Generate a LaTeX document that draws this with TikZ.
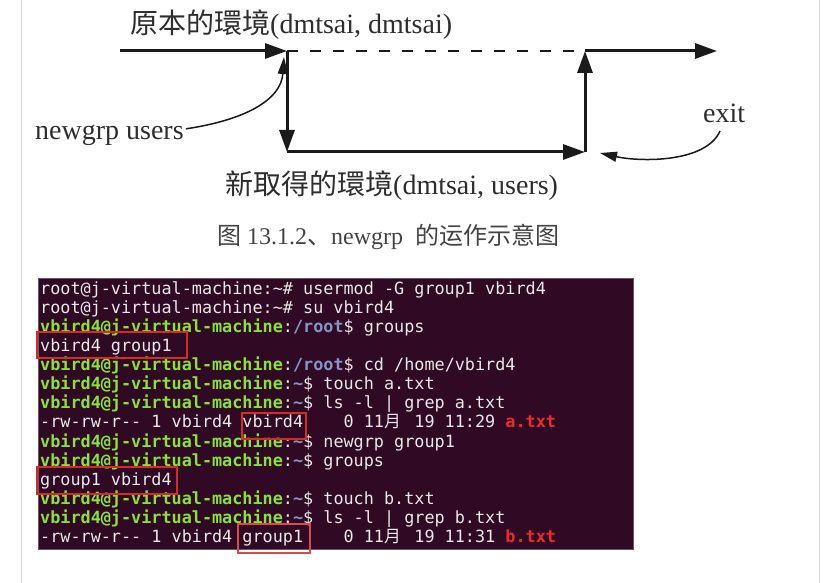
\documentclass[tikz,border=0pt]{standalone}
\usepackage{fontspec}
\setmainfont{Liberation Serif}
\newfontfamily\cjktc{Noto Sans CJK TC}
\newfontfamily\cjksc{Noto Sans CJK SC}
\newfontfamily\termfont[Ligatures=TeXOff]{DejaVu Sans Mono}
\usetikzlibrary{arrows.meta}
\definecolor{termbg}{HTML}{300A24}
\definecolor{termfg}{HTML}{E8E8E6}
\definecolor{tgreen}{HTML}{8AE234}
\definecolor{tblue}{HTML}{8595C8}
\definecolor{tred}{HTML}{EF2929}
\definecolor{boxred}{HTML}{D42A2A}
\definecolor{inkdark}{HTML}{1A1A1A}
\definecolor{labelgray}{HTML}{2E2E2E}
\definecolor{capgray}{HTML}{444444}
\newcommand\vbprompt[1]{\textbf{\color{tgreen}vbird4@j-virtual-machine}:\textbf{\color{tblue}#1}\$}
\newcommand\yuechar{\makebox[20.2pt][l]{\cjksc 月}}
\newcommand\redfile[1]{\textbf{\color{tred}#1}}
\tikzset{
  mainline/.style={line width=3pt, draw=inkdark, -{Triangle[length=22pt,width=15pt]}},
  plainline/.style={line width=3pt, draw=inkdark},
  dashline/.style={line width=2pt, draw=inkdark, dash pattern=on 11pt off 12pt},
  curvearrow/.style={line width=1.5pt, draw=inkdark, -{Triangle[length=17pt,width=10pt]}},
  biglabel/.style={anchor=base west, inner sep=0pt, text=labelgray, font=\fontsize{28}{30}\selectfont},
  caption/.style={anchor=base west, inner sep=0pt, text=capgray, font=\fontsize{24}{26}\selectfont},
  termline/.style={anchor=base west, inner sep=0pt, text=termfg, font=\termfont\fontsize{16.8}{19}\selectfont},
  redbox/.style={draw=boxred, line width=1.3pt},
  pageedge/.style={draw=black!16, line width=1.5pt}
}
\begin{document}
\begin{tikzpicture}[x=1pt,y=-1pt]
\useasboundingbox (0,0) rectangle (831,583);
\fill[white] (0,0) rectangle (831,583);
\draw[pageedge] (21.5,0) -- (21.5,583);
\draw[pageedge] (819.5,0) -- (819.5,583);

% ---- diagram ----
\coordinate (a0) at (120,51);
\coordinate (a1) at (287,51);
\coordinate (a2) at (585,51);
\coordinate (a3) at (717,51);
\coordinate (b1) at (287,152);
\coordinate (b2) at (585,152);
\coordinate (ex) at (600,153);
\coordinate (ng) at (284,57);

\draw[mainline] (a0) -- (a1);
\draw[dashline] (a1) -- (a2);
\draw[mainline] (a2) -- (a3);
\draw[mainline] (a1) -- (b1);
\draw[mainline] (b1) -- (b2);
\draw[mainline] (b2) -- (a2);

\node[biglabel] (top) at (130,34) {{\cjktc 原本的環境}(dmtsai, dmtsai)};
\node[biglabel] (bot) at (225,195) {{\cjktc 新取得的環境}(dmtsai, users)};
\node[biglabel] (newgrp) at (35,140) {newgrp users};
\node[biglabel] (exit) at (703,123) {exit};

\draw[curvearrow] (newgrp.east) ++(2,-7) coordinate (ngs) .. controls (245,120) and (281,100) .. (ng);
\draw[curvearrow] (720,131) coordinate (exs) .. controls (706,163) and (640,162) .. (ex);

\node[caption] (cap) at (217,244) {{\cjksc 图} 13.1.2{\cjksc 、}newgrp~~{\cjksc 的运作示意图}};

% ---- terminal ----
\filldraw[fill=termbg, draw=termbg!70!white, line width=1pt] (38.5,278) rectangle (633,549);

\node[termline] (t1) at (40,294.6) {root@j-virtual-machine:\textasciitilde\#~usermod~-G~group1~vbird4};
\node[termline] (t2) at (40,313.65) {root@j-virtual-machine:\textasciitilde\#~su~vbird4};
\node[termline] (t3) at (40,332.7) {\vbprompt{/root}~groups};
\node[termline] (t4) at (40,351.75) {vbird4~group1};
\node[termline] (t5) at (40,370.8) {\vbprompt{/root}~cd~/home/vbird4};
\node[termline] (t6) at (40,389.85) {\vbprompt{\textasciitilde}~touch~a.txt};
\node[termline] (t7) at (40,408.9) {\vbprompt{\textasciitilde}~ls~-l~|~grep~a.txt};
\node[termline] (t8) at (40,427.95) {-rw-rw-r--~1~vbird4~vbird4~~~~0~11\yuechar~19~11:29~\redfile{a.txt}};
\node[termline] (t9) at (40,447.0) {\vbprompt{\textasciitilde}~newgrp~group1};
\node[termline] (t10) at (40,466.05) {\vbprompt{\textasciitilde}~groups};
\node[termline] (t11) at (40,485.1) {group1~vbird4};
\node[termline] (t12) at (40,504.15) {\vbprompt{\textasciitilde}~touch~b.txt};
\node[termline] (t13) at (40,523.2) {\vbprompt{\textasciitilde}~ls~-l~|~grep~b.txt};
\node[termline] (t14) at (40,542.25) {-rw-rw-r--~1~vbird4~group1~~~~0~11\yuechar~19~11:31~\redfile{b.txt}};

\draw[redbox] (37,332) rectangle (187,358);
\draw[redbox] (242,413) rectangle (306,439);
\draw[redbox] (37,467) rectangle (177,494);
\draw[redbox, draw=boxred!85!white] (238,524) rectangle (310,553);
\end{tikzpicture}
\end{document}
